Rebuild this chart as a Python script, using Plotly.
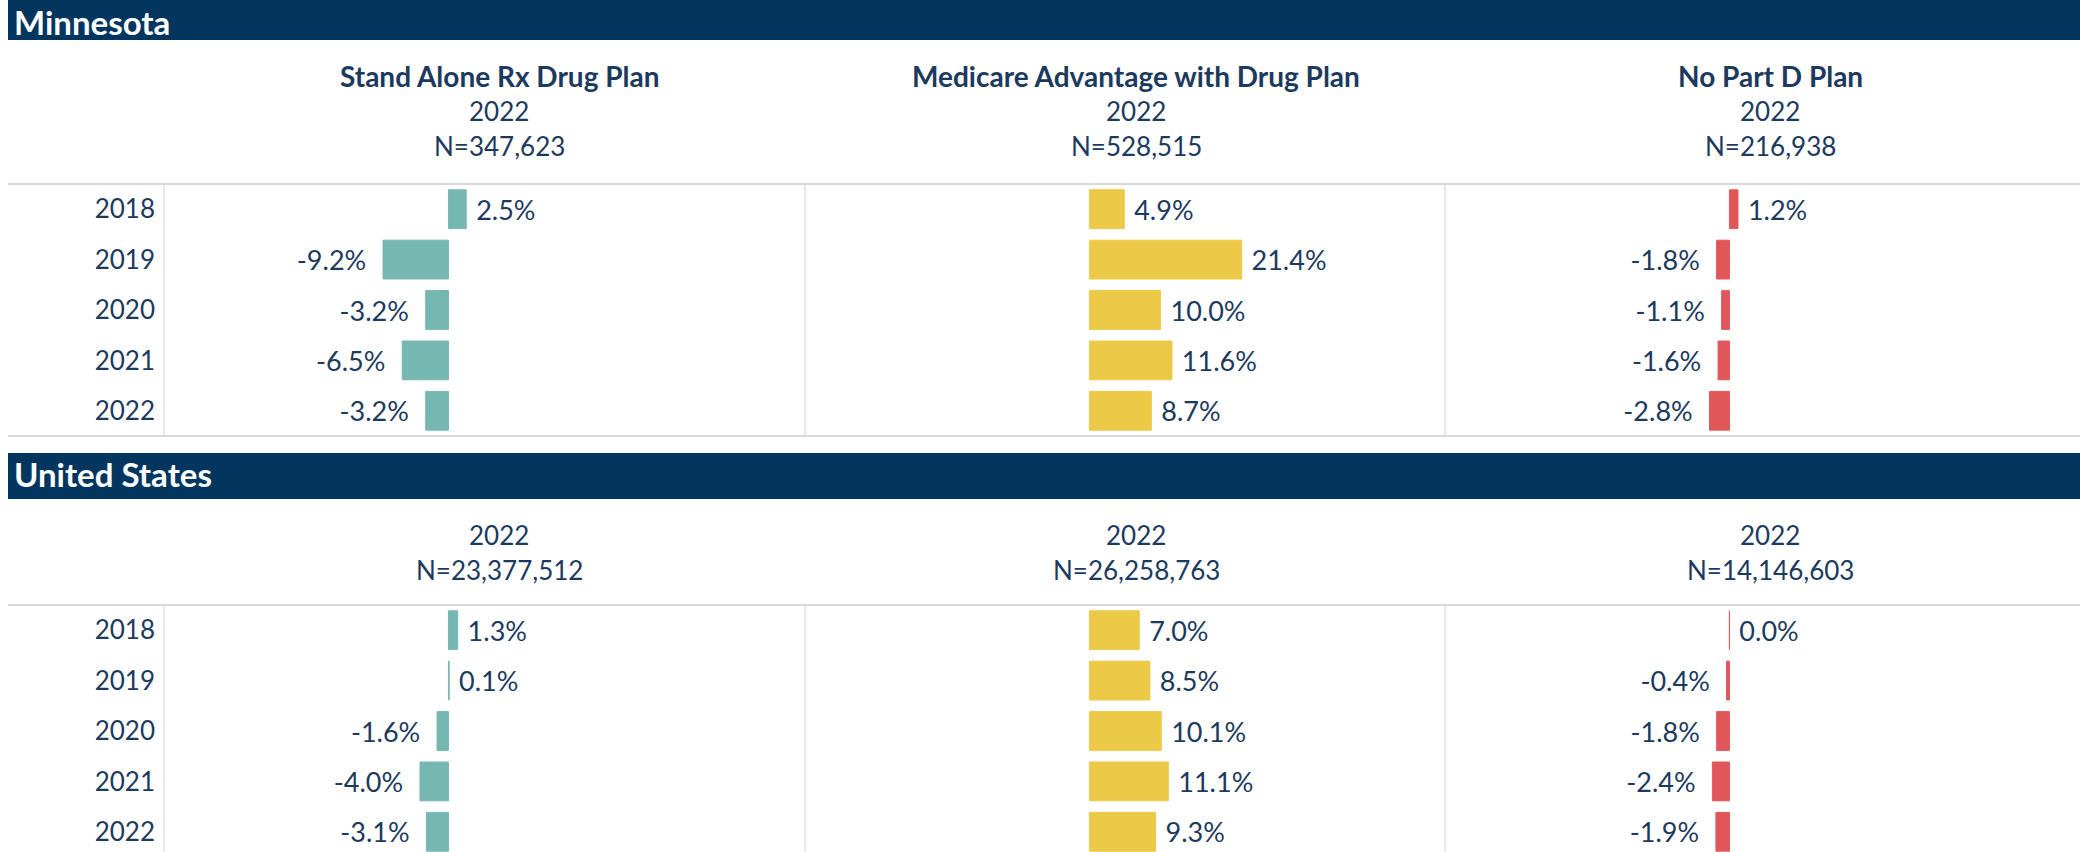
import plotly.graph_objects as go

# ---------------- data ----------------
years = ["2018", "2019", "2020", "2021", "2022"]
plans = ["Stand Alone Rx Drug Plan", "Medicare Advantage with Drug Plan", "No Part D Plan"]
regions = ["Minnesota", "United States"]
header_year = "2022"

mn_standalone = [2.5, -9.2, -3.2, -6.5, -3.2]
mn_ma_drug = [4.9, 21.4, 10.0, 11.6, 8.7]
mn_no_partd = [1.2, -1.8, -1.1, -1.6, -2.8]

us_standalone = [1.3, 0.1, -1.6, -4.0, -3.1]
us_ma_drug = [7.0, 8.5, 10.1, 11.1, 9.3]
us_no_partd = [0.0, -0.4, -1.8, -2.4, -1.9]

mn_n = ["347,623", "528,515", "216,938"]
us_n = ["23,377,512", "26,258,763", "14,146,603"]

series = [[mn_standalone, mn_ma_drug, mn_no_partd],
          [us_standalone, us_ma_drug, us_no_partd]]
ns = [mn_n, us_n]
plan_colors = ["#76B7B2", "#EDC948", "#E15759"]

# ---------------- layout constants ----------------
W, H = 2080, 852
NAVY_TXT = "#1c3a5e"
BAR_NAVY = "#02365F"
FONT = "Lato, 'Open Sans', sans-serif"


def X(px):
    return px / W


def Y(py):
    return 1 - py / H


def label(v):
    s = f"{v:.1f}%"
    return f" {s}" if v >= 0 else f"{s}  "


col_px = [(164, 805), (805, 1445), (1445, 2080)]
row_px = [(184, 436), (605, 852)]
row_h = 50.4
scale = 640 / 90.0  # px per percent
header_cx = [499, 1136, 1770]

fig = go.Figure()
layout_axes = {}

for r in range(2):
    for c in range(3):
        i = r * 3 + c + 1
        sfx = "" if i == 1 else str(i)
        vals = series[r][c]
        fig.add_trace(go.Bar(
            x=vals, y=years, orientation="h",
            marker=dict(color=plan_colors[c], line=dict(color=plan_colors[c], width=1)),
            text=[label(v) for v in vals],
            textposition="outside",
            textfont=dict(size=27, color=NAVY_TXT, family=FONT),
            constraintext="none", cliponaxis=False,
            xaxis="x" + sfx, yaxis="y" + sfx,
            hoverinfo="skip", showlegend=False,
        ))
        x0, x1 = col_px[c]
        y0, y1 = row_px[r]
        layout_axes["xaxis" + sfx] = dict(
            domain=[X(x0), X(x1)], anchor="y" + sfx,
            range=[-40, -40 + (x1 - x0) / scale],
            showgrid=False, zeroline=False, showticklabels=False, showline=False,
            fixedrange=True,
        )
        layout_axes["yaxis" + sfx] = dict(
            domain=[Y(y1), Y(y0)], anchor="x" + sfx,
            type="category", categoryorder="array", categoryarray=years,
            range=[-0.5 + (y1 - y0) / row_h, -0.5],
            showgrid=False, zeroline=False, showline=False,
            showticklabels=(c == 0), ticks="",
            ticklabelstandoff=8,
            tickfont=dict(size=26, color=NAVY_TXT, family=FONT),
            fixedrange=True,
        )

fig.update_layout(**layout_axes)

shapes = []
annotations = []

# header bars
bar_px = [(0, 40), (453, 499)]
for r, (b0, b1) in enumerate(bar_px):
    shapes.append(dict(type="rect", xref="paper", yref="paper",
                       x0=X(8), x1=X(W), y0=Y(b1), y1=Y(b0),
                       fillcolor=BAR_NAVY, line=dict(width=0), layer="below"))
    if r == 0:
        ty, tanchor = Y(0), "top"
    else:
        ty, tanchor = Y((b0 + b1) / 2 - 2), "middle"
    annotations.append(dict(text=f"<b>{regions[r]}</b>", xref="paper", yref="paper",
                            x=X(12), y=ty, xanchor="left", yanchor=tanchor,
                            showarrow=False, font=dict(size=33, color="white", family=FONT)))

# horizontal separators
for py in [184, 436, 605]:
    shapes.append(dict(type="line", xref="paper", yref="paper",
                       x0=X(8), x1=X(W), y0=Y(py), y1=Y(py),
                       line=dict(color="#d9d9d9", width=2), layer="below"))

# vertical dividers
for (y0, y1) in row_px:
    for xp in [164, 805, 1445]:
        shapes.append(dict(type="line", xref="paper", yref="paper",
                           x0=X(xp), x1=X(xp), y0=Y(y1), y1=Y(y0),
                           line=dict(color="#d3d3d3", width=1), layer="below"))

# column headers
for c in range(3):
    cx = X(header_cx[c])
    annotations.append(dict(text=f"<b>{plans[c]}</b>", xref="paper", yref="paper",
                            x=cx, y=Y(76), xanchor="center", yanchor="middle", showarrow=False,
                            font=dict(size=28, color=NAVY_TXT, family=FONT)))
    for r, (yy, yn) in enumerate([(111, 146), (535, 570)]):
        annotations.append(dict(text=header_year, xref="paper", yref="paper",
                                x=cx, y=Y(yy), xanchor="center", yanchor="middle", showarrow=False,
                                font=dict(size=26, color=NAVY_TXT, family=FONT)))
        annotations.append(dict(text=f"N={ns[r][c]}", xref="paper", yref="paper",
                                x=cx, y=Y(yn), xanchor="center", yanchor="middle", showarrow=False,
                                font=dict(size=26, color=NAVY_TXT, family=FONT)))

fig.update_layout(
    width=W, height=H,
    margin=dict(l=0, r=0, t=0, b=0),
    paper_bgcolor="white", plot_bgcolor="rgba(0,0,0,0)",
    bargap=0.23,
    shapes=shapes, annotations=annotations,
    font=dict(family=FONT, color=NAVY_TXT),
)

fig.write_html("out.html", config={"displayModeBar": False},
               post_script="document.body.style.margin='0';document.body.style.overflow='hidden';")
